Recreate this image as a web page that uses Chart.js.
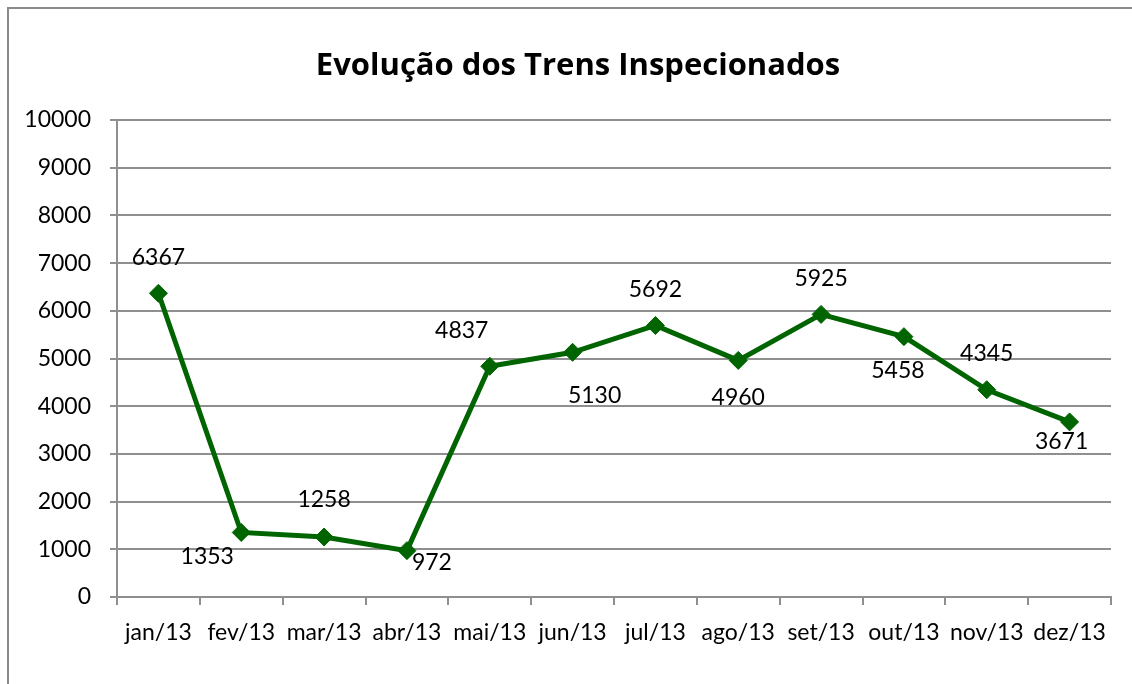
<!DOCTYPE html>
<html>
<head>
<meta charset="utf-8">
<script src="https://cdn.jsdelivr.net/npm/chart.js@4/dist/chart.umd.min.js"></script>
<style>
    html, body { margin: 0; padding: 0; background: #fff; }
    #wrap { width: 1132px; height: 684px; position: relative; }
</style>
</head>
<body>
<div id="wrap"><canvas id="lineChart"></canvas></div>
<script>
const TITLE = "Evolução dos Trens Inspecionados";
const months = ["jan/13", "fev/13", "mar/13", "abr/13", "mai/13", "jun/13",
                "jul/13", "ago/13", "set/13", "out/13", "nov/13", "dez/13"];
const inspected = [6367, 1353, 1258, 972, 4837, 5130, 5692, 4960, 5925, 5458, 4345, 3671];
const yTicks = [0, 1000, 2000, 3000, 4000, 5000, 6000, 7000, 8000, 9000, 10000];

// where each value label sits relative to its point (px)
const labelOffsets = [
    [0, -36], [-34, 24], [0, -37], [25, 12], [-28, -36], [22, 43],
    [0, -36], [0, 37], [0, -36], [-6, 34], [0, -36], [-8, 20]
];

const FONT = "Lato, 'Liberation Sans', sans-serif";
const TITLE_FONT = "'Open Sans', Lato, sans-serif";
const GREEN = "#006400";
const GRID = "#8f8f8f";

// white background, outer frame (left and top edges) and the heading
const framePlugin = {
    id: "frame",
    beforeDraw(chart) {
        const c = chart.ctx;
        c.save();
        c.fillStyle = "#fff";
        c.fillRect(0, 0, chart.width, chart.height);
        c.strokeStyle = "#8a8a8a";
        c.lineWidth = 2;
        c.beginPath();
        c.moveTo(8, chart.height);
        c.lineTo(8, 8);
        c.lineTo(chart.width, 8);
        c.stroke();

        c.fillStyle = "#000";
        c.font = `bold 31px ${TITLE_FONT}`;
        c.textAlign = "center";
        c.textBaseline = "middle";
        c.fillText(TITLE, 578, 66);
        c.restore();
    }
};

const valueLabels = {
    id: "valueLabels",
    afterDatasetsDraw(chart) {
        const c = chart.ctx;
        const meta = chart.getDatasetMeta(0);
        c.save();
        c.font = `23px ${FONT}`;
        c.fillStyle = "#000";
        c.textAlign = "center";
        c.textBaseline = "middle";
        meta.data.forEach((pt, i) => {
            const [dx, dy] = labelOffsets[i];
            c.fillText(String(inspected[i]), pt.x + dx, pt.y + dy);
        });
        c.restore();
    }
};

new Chart(document.getElementById("lineChart"), {
    type: "line",
    data: {
        labels: months,
        datasets: [{
            data: inspected,
            borderColor: GREEN,
            backgroundColor: GREEN,
            borderWidth: 5,
            pointStyle: "rectRot",
            pointRadius: 9,
            pointBorderWidth: 1,
            tension: 0
        }]
    },
    options: {
        responsive: true,
        maintainAspectRatio: false,
        animation: false,
        layout: { padding: { left: 0, right: 21, top: 120, bottom: 0 } },
        plugins: {
            legend: { display: false },
            tooltip: { enabled: false },
            title: { display: false }
        },
        scales: {
            x: {
                offset: true,
                grid: {
                    offset: true,
                    drawOnChartArea: false,
                    color: GRID,
                    lineWidth: 2,
                    tickLength: 8
                },
                border: { color: GRID, width: 2 },
                ticks: {
                    color: "#000",
                    font: { family: FONT, size: 23 },
                    padding: 14,
                    maxRotation: 0,
                    autoSkip: false
                },
                afterFit: s => { s.height = 87; }
            },
            y: {
                min: 0,
                max: 10000,
                afterBuildTicks: s => { s.ticks = yTicks.map(v => ({ value: v })); },
                grid: { color: GRID, lineWidth: 2, tickLength: 7 },
                border: { color: GRID, width: 2 },
                ticks: {
                    color: "#000",
                    font: { family: FONT, size: 23 },
                    padding: 19,
                    callback: v => String(v)
                },
                afterFit: s => { s.width = 117; }
            }
        }
    },
    plugins: [framePlugin, valueLabels]
});
</script>
</body>
</html>
